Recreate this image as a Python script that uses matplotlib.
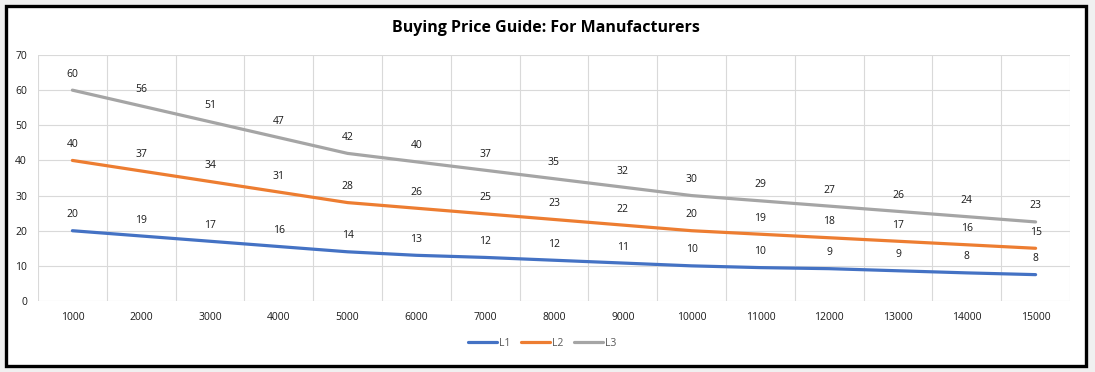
import matplotlib.pyplot as plt
from matplotlib.patches import Rectangle
from matplotlib.ticker import FixedLocator

plt.rcParams['font.family'] = ['Open Sans', 'DejaVu Sans']

quantities = ['1000', '2000', '3000', '4000', '5000', '6000', '7000', '8000',
              '9000', '10000', '11000', '12000', '13000', '14000', '15000']
l1 = [20, 18.5, 17, 15.5, 14, 13, 12.4, 11.6, 10.8, 10, 9.5, 9.2, 8.6, 8, 7.5]
l2 = [40, 37, 34, 31, 28, 26.4, 24.8, 23.2, 21.6, 20, 19, 18, 17, 16, 15]
l3 = [60, 55.5, 51, 46.5, 42, 39.6, 37.2, 34.8, 32.4, 30, 28.5, 27, 25.5, 24, 22.5]
series = [('L1', l1, '#4472C4'), ('L2', l2, '#ED7D31'), ('L3', l3, '#A5A5A5')]

W, H = 1095, 372
fig = plt.figure(figsize=(W / 100, H / 100), dpi=100, facecolor='#f0f0f0')

# chart area with thick black border
fig.patches.append(Rectangle((6 / W, 1 - 366 / H), 1080 / W, 360 / H,
                             transform=fig.transFigure, facecolor='white',
                             edgecolor='black', linewidth=2.4, zorder=0))

ax = fig.add_axes([38 / W, 1 - 301 / H, (1070 - 38) / W, (301 - 55) / H])
ax.set_zorder(2)
ax.set_facecolor('white')
x = list(range(1, len(quantities) + 1))

for name, vals, col in series:
    ax.plot(x, vals, color=col, linewidth=2.3, label=name, solid_capstyle='round')
    for xi, v in zip(x, vals):
        ax.annotate(str(int(v + 0.5)), (xi, v), xytext=(0, 11.5),
                    textcoords='offset points', ha='center', va='center',
                    fontsize=7.5, color='#1a1a1a')

ax.set_xlim(0.5, len(quantities) + 0.5)
ax.set_ylim(0, 70)
ax.set_yticks(range(0, 71, 10))
ax.set_xticks(x)
ax.set_xticklabels(quantities)
ax.xaxis.set_minor_locator(FixedLocator([i + 0.5 for i in range(0, len(quantities) + 1)]))
ax.grid(True, which='major', axis='y', color='#d9d9d9', linewidth=0.8)
ax.grid(True, which='minor', axis='x', color='#d9d9d9', linewidth=0.8)
ax.set_axisbelow(True)
for s in ax.spines.values():
    s.set_visible(False)
ax.tick_params(axis='both', which='both', length=0, labelsize=7.5, colors='#1a1a1a')
ax.tick_params(axis='x', pad=8)
ax.tick_params(axis='y', pad=8)

fig.text(546 / W, 1 - 28 / H, 'Buying Price Guide: For Manufacturers',
         ha='center', va='center', fontsize=11.5, fontweight='bold', color='black')

fig.legend(loc='center', bbox_to_anchor=(542 / W, 1 - 343 / H), ncol=3,
           frameon=False, fontsize=7.5, handlelength=2.8, handletextpad=0.2,
           columnspacing=1.0, labelcolor='#595959')

fig.savefig('out.png', dpi=100, facecolor=fig.get_facecolor())
